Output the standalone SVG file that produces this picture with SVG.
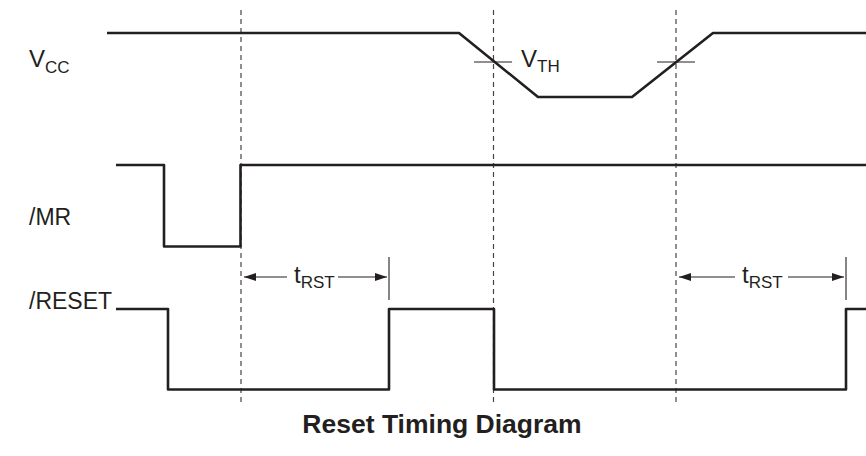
<svg xmlns="http://www.w3.org/2000/svg" width="866" height="456" viewBox="0 0 866 456">
<defs>
<marker id="ah" viewBox="0 0 12 8" refX="12" refY="4" markerWidth="12" markerHeight="8" markerUnits="userSpaceOnUse" orient="auto-start-reverse">
<path d="M0,0 L12,4 L0,8 Z" fill="#231f20"/>
</marker>
</defs>
<style>
.sig{fill:none;stroke:#231f20;stroke-width:2.6;stroke-linejoin:round}
.dash{fill:none;stroke:#444;stroke-width:1.2;stroke-dasharray:5,4}
.thin{fill:none;stroke:#231f20;stroke-width:1.1}
.lbl{font-family:"Liberation Sans",Arial,sans-serif;font-size:24px;fill:#231f20}
.name{font-family:"Liberation Sans",Arial,sans-serif;font-size:23px;fill:#231f20}
.sub{font-family:"Liberation Sans",Arial,sans-serif;font-size:17px;fill:#231f20}
.title{font-family:"Liberation Sans",Arial,sans-serif;font-size:26.5px;font-weight:bold;fill:#231f20}
</style>
<rect width="866" height="456" fill="#fff"/>
<g id="guides">
<line class="dash" x1="241" y1="10" x2="241" y2="406"/>
<line class="dash" x1="493.5" y1="10" x2="493.5" y2="406"/>
<line class="dash" x1="676" y1="10" x2="676" y2="406"/>
</g>
<g id="vcc">
<text class="lbl" x="29" y="67">V<tspan class="sub" dy="6">CC</tspan></text>
<polyline class="sig" points="107,33 459,33 538,97 632,97 713,33 866,33"/>
<line class="thin" x1="474" y1="62" x2="512" y2="62"/>
<line class="thin" x1="657" y1="62" x2="695" y2="62"/>
<text class="lbl" x="521" y="67">V<tspan class="sub" dy="5">TH</tspan></text>
</g>
<g id="mr">
<text class="name" x="29" y="225">/MR</text>
<polyline class="sig" points="116,165 164,165 164,246.5 240.5,246.5 240.5,165 866,165"/>
</g>
<g id="reset">
<text class="name" x="29" y="309">/RESET</text>
<polyline class="sig" points="116,309 168,309 168,389.5 389,389.5 389,309 494,309 494,389.5 846,389.5 846,309 866,309"/>
</g>
<g id="connectors">
<line class="thin" x1="287" y1="277" x2="244" y2="277" marker-end="url(#ah)"/>
<line class="thin" x1="338" y1="277" x2="387" y2="277" marker-end="url(#ah)"/>
<line class="thin" x1="389" y1="257" x2="389" y2="300"/>
<line class="thin" x1="735" y1="277" x2="679" y2="277" marker-end="url(#ah)"/>
<line class="thin" x1="788" y1="277" x2="844" y2="277" marker-end="url(#ah)"/>
<line class="thin" x1="846" y1="257" x2="846" y2="300"/>
</g>
<g id="trst1"><text class="lbl" x="294" y="283">t<tspan class="sub" dy="5">RST</tspan></text></g>
<g id="trst2"><text class="lbl" x="742" y="283">t<tspan class="sub" dy="5">RST</tspan></text></g>
<g id="title"><text class="title" x="442" y="433" text-anchor="middle">Reset Timing Diagram</text></g>
</svg>
